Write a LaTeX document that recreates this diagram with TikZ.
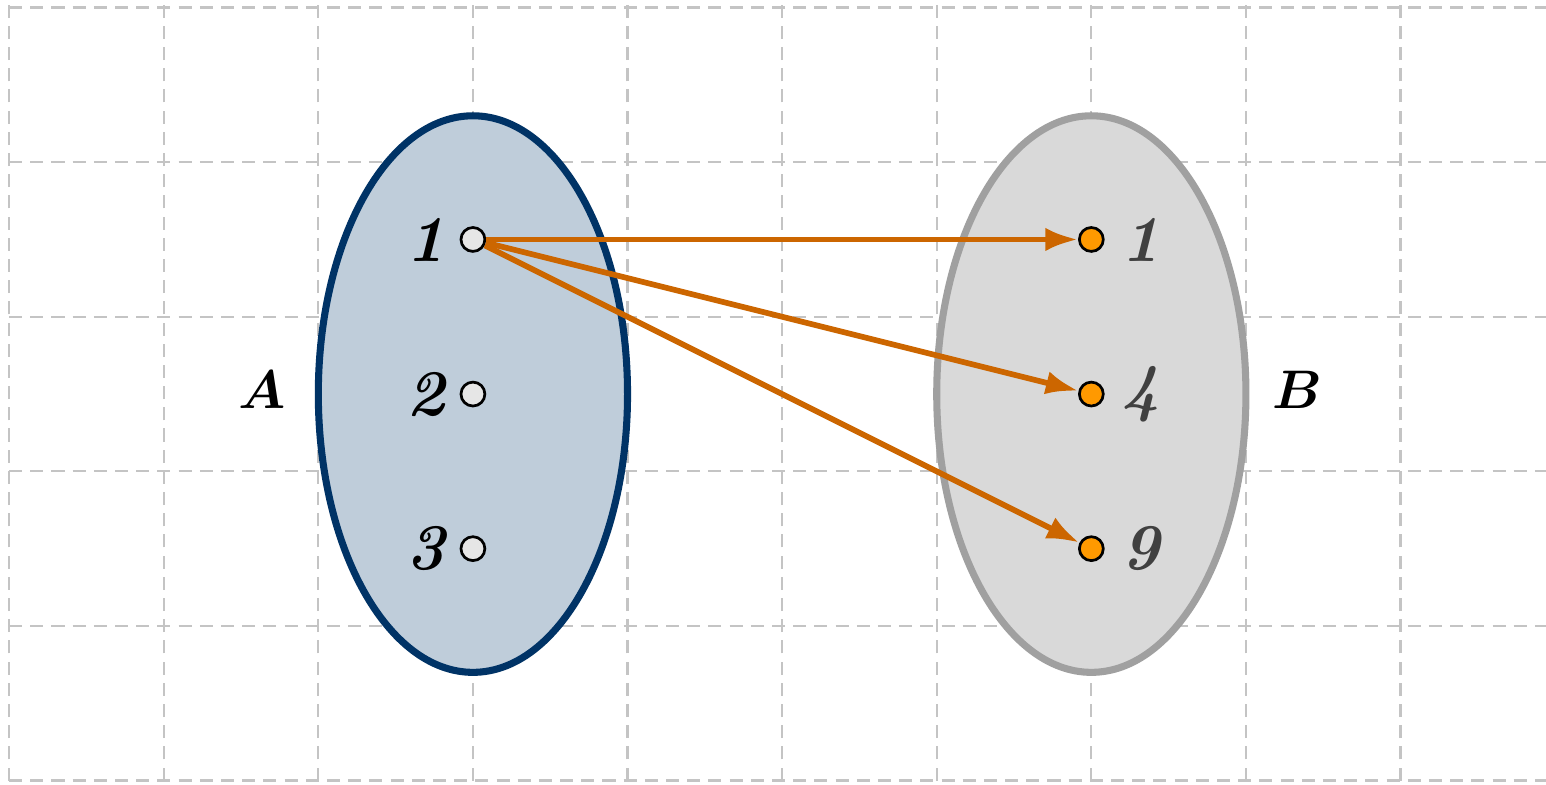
\documentclass[tikz,border=0pt]{standalone}
\usepackage{amsmath}
\usetikzlibrary{arrows.meta}
\definecolor{setAfill}{HTML}{BFCDDA}
\definecolor{setAdraw}{HTML}{003366}
\definecolor{setBfill}{HTML}{D9D9D9}
\definecolor{setBdraw}{HTML}{A0A0A0}
\definecolor{ptA}{HTML}{E6E6E6}
\definecolor{ptB}{HTML}{FF9900}
\definecolor{arr}{HTML}{CC6600}
\definecolor{gridc}{HTML}{C4C4C4}
\definecolor{lblB}{HTML}{404040}
\tikzset{
  gridline/.style={draw=gridc, line width=0.4pt, dash pattern=on 2.4pt off 1.5pt},
  setA/.style={draw=setAdraw, fill=setAfill, line width=1.3pt},
  setB/.style={draw=setBdraw, fill=setBfill, line width=1.3pt},
  dotA/.style={circle, draw=black, fill=ptA, line width=0.5pt, minimum size=4.4pt, inner sep=0pt},
  dotB/.style={circle, draw=black, fill=ptB, line width=0.5pt, minimum size=4.4pt, inner sep=0pt},
  numA/.style={anchor=east, inner sep=0pt, font=\large\bfseries\itshape, text=black},
  numB/.style={anchor=west, inner sep=0pt, font=\large\bfseries\itshape, text=lblB},
  setlabel/.style={inner sep=0pt, font=\boldmath},
  maparrow/.style={draw=arr, line width=1.05pt, -{Latex[length=6pt,width=4.3pt]}},
}
\begin{document}
\begin{tikzpicture}
\useasboundingbox (-3.059,-2.523) rectangle (6.941,2.549);
\fill[white] (-3.059,-2.523) rectangle (6.941,2.549);
% grid
\foreach \x in {-3,...,6} \draw[gridline] (\x,-2.5) -- (\x,2.549);
\foreach \y in {-2.5,-1.5,...,2.5} \draw[gridline] (-3,\y) -- (6.941,\y);
% sets
\draw[setA] (0,0) ellipse [x radius=1, y radius=1.8];
\draw[setB] (4,0) ellipse [x radius=1, y radius=1.8];
% points
\node[dotA] (a1) at (0,1) {};
\node[dotA] (a2) at (0,0) {};
\node[dotA] (a3) at (0,-1) {};
\node[dotB] (b1) at (4,1) {};
\node[dotB] (b4) at (4,0) {};
\node[dotB] (b9) at (4,-1) {};
% labels
\node[numA] (la1) at ([xshift=-0.09cm]a1.west) {1};
\node[numA] (la2) at ([xshift=-0.09cm]a2.west) {2};
\node[numA] (la3) at ([xshift=-0.09cm]a3.west) {3};
\node[numB] (lb1) at ([xshift=0.1cm]b1.east) {1};
\node[numB] (lb4) at ([xshift=0.1cm]b4.east) {4};
\node[numB] (lb9) at ([xshift=0.1cm]b9.east) {9};
\node[setlabel] (A) at (-1.365,0.03) {$A$};
\node[setlabel] (B) at (5.33,0.03) {$B$};
% arrows
\draw[maparrow] (a1) -- (b1);
\draw[maparrow] (a1) -- (b4);
\draw[maparrow] (a1) -- (b9);
\end{tikzpicture}
\end{document}
